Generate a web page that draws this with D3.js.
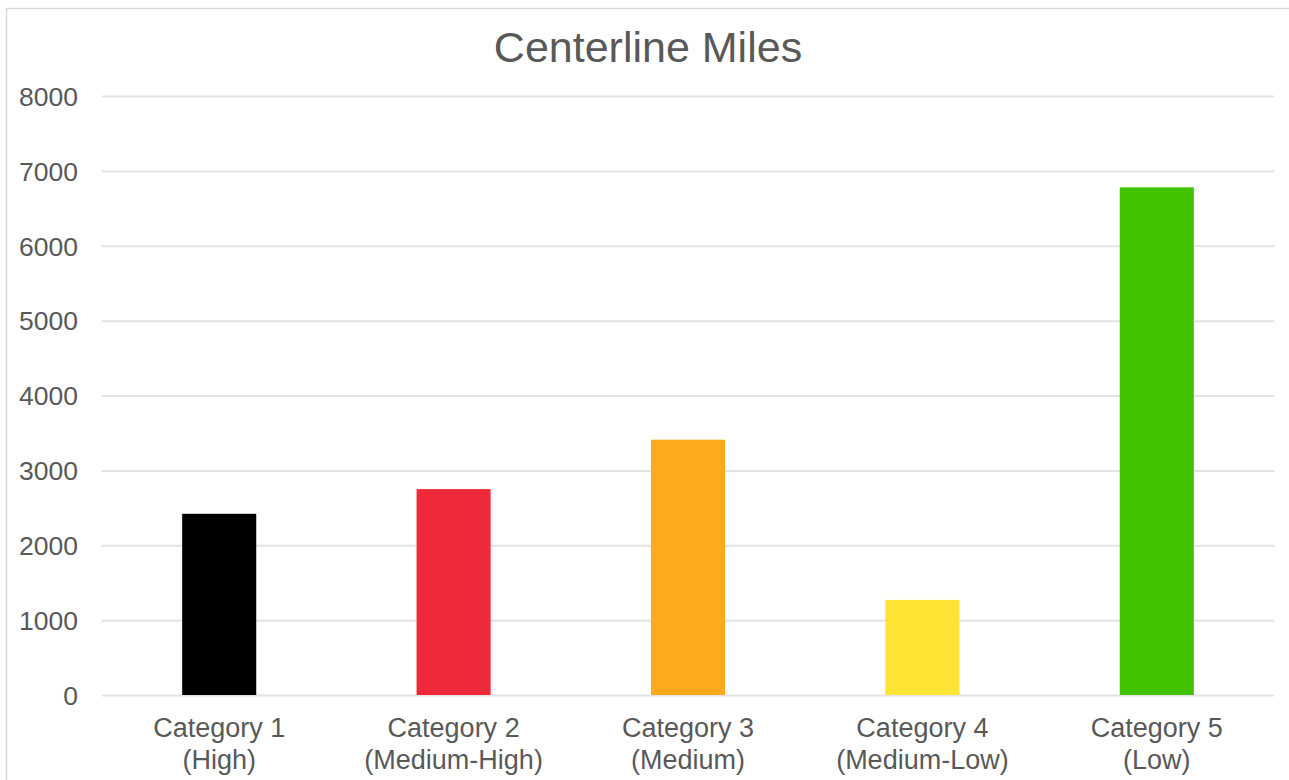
<!DOCTYPE html>
<html>
<head>
<meta charset="utf-8">
<script src="https://cdn.jsdelivr.net/npm/d3@7"></script>
<style>
  html, body { margin: 0; padding: 0; background: #fff; }
  svg { display: block; font-family: "Liberation Sans", Arial, sans-serif; }
</style>
</head>
<body>
<svg id="chart" width="1289" height="780"></svg>
<script>
const title = "Centerline Miles";
const categories = ["Category 1|(High)", "Category 2|(Medium-High)", "Category 3|(Medium)", "Category 4|(Medium-Low)", "Category 5|(Low)"];
const values = [2420, 2750, 3410, 1270, 6780];
const colors = ["#000000", "#EE2A3A", "#FFA91F", "#FFE433", "#42C300"];
const yTicks = [0, 1000, 2000, 3000, 4000, 5000, 6000, 7000, 8000];

const svg = d3.select("#chart");
const W = 1289, H = 780;
const plot = { left: 102, right: 1274, top: 96, bottom: 695 };

// outer frame
svg.append("rect")
  .attr("x", 6.5).attr("y", 8.5)
  .attr("width", W + 10).attr("height", H + 10)
  .attr("fill", "#fff").attr("stroke", "#d9d9d9").attr("stroke-width", 1.5);

const x = d3.scaleBand().domain(categories).range([plot.left, plot.right]).padding(0);
const y = d3.scaleLinear().domain([0, 8000]).range([plot.bottom, plot.top]);

// gridlines
const yAxis = d3.axisLeft(y).tickValues(yTicks).tickSize(-(plot.right - plot.left)).tickPadding(24).tickFormat(d3.format("d"));
const gy = svg.append("g").attr("transform", `translate(${plot.left},0)`).call(yAxis);
gy.select(".domain").remove();
gy.selectAll(".tick line").attr("stroke", "#e3e3e3").attr("stroke-width", 2);
gy.selectAll(".tick text").attr("fill", "#595959").attr("font-size", "26.5px")
  .attr("font-family", "'Liberation Sans', Arial, sans-serif").attr("dy", "0.35em");

// bars
const barW = x.bandwidth() * 0.316;
svg.append("g").selectAll("rect").data(categories).join("rect")
  .attr("x", (d) => x(d) + x.bandwidth() / 2 - barW / 2)
  .attr("y", (d, i) => y(values[i]))
  .attr("width", barW)
  .attr("height", (d, i) => y(0) - y(values[i]))
  .attr("fill", (d, i) => colors[i]);

// x axis labels
const xAxis = d3.axisBottom(x).tickSize(0).tickFormat(() => "");
const gx = svg.append("g").attr("transform", `translate(0,${plot.bottom})`).call(xAxis);
gx.select(".domain").remove();
gx.selectAll(".tick").each(function(d) {
  const parts = d.split("|");
  const t = d3.select(this).append("text")
    .attr("fill", "#595959").attr("font-size", "27px").attr("text-anchor", "middle")
    .attr("font-family", "'Liberation Sans', Arial, sans-serif");
  parts.forEach((p, i) => {
    t.append("tspan").attr("x", 0).attr("y", 42 + i * 32).text(p);
  });
});

// title
svg.append("text").attr("x", 648).attr("y", 62).attr("text-anchor", "middle")
  .attr("fill", "#595959").attr("font-size", "43px")
  .attr("font-family", "'Liberation Sans', Arial, sans-serif").text(title);
</script>
</body>
</html>
